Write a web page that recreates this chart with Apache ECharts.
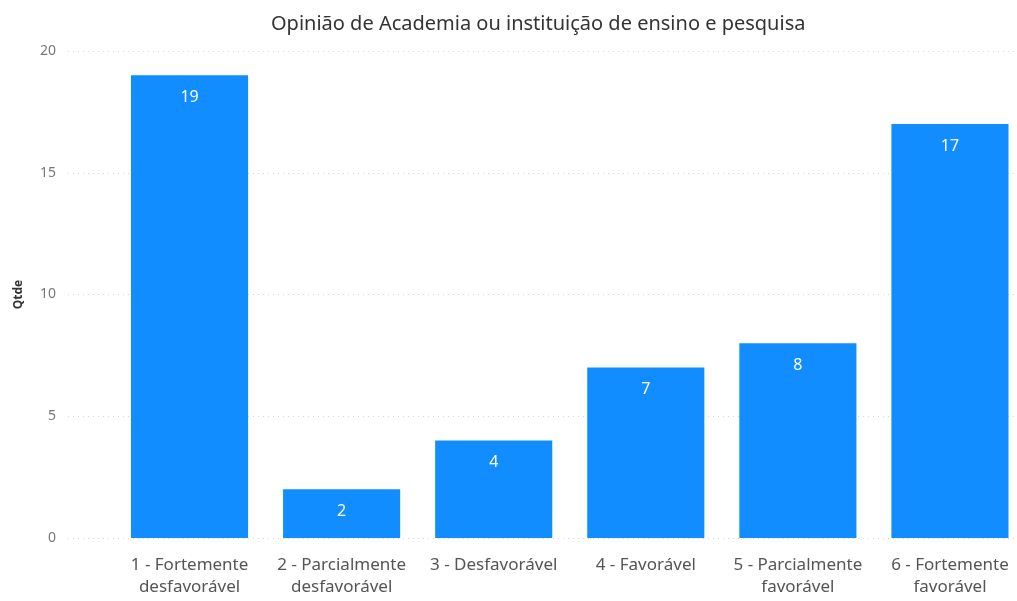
<!DOCTYPE html>
<html>
<head>
<meta charset="utf-8">
<script src="https://cdn.jsdelivr.net/npm/echarts@6/dist/echarts.min.js"></script>
<style>
  html, body { margin: 0; padding: 0; background: #fff; overflow: hidden; }
  /* a bit wider than the window: the last bar's band runs past the right edge */
  #chart { width: 1026px; height: 601px; }
</style>
</head>
<body>
<div id="chart"></div>
<script>
// categorias e contagens
const categories = [
  '1 - Fortemente desfavorável',
  '2 - Parcialmente desfavorável',
  '3 - Desfavorável',
  '4 - Favorável',
  '5 - Parcialmente favorável',
  '6 - Fortemente favorável'
]
const qtde = [19, 2, 4, 7, 8, 17]
const yTicks = [0, 5, 10, 15, 20]

const FONT = '"Noto Sans", "Open Sans", sans-serif'
const chart = echarts.init(document.getElementById('chart'))

chart.setOption({
  animation: false,
  textStyle: { fontFamily: FONT },
  title: {
    text: 'Opinião de Academia ou instituição de ensino e pesquisa',
    left: 266,
    top: 9,
    textStyle: { fontSize: 20, fontWeight: 'normal', color: '#333', fontFamily: FONT }
  },
  grid: [
    // grid 0: only for the y axis + dotted gridlines
    { left: 68, right: 9, top: 51, height: 487 },
    // grid 1: the bars
    { left: 113.5, right: 0, top: 51, height: 487 }
  ],
  xAxis: [
    { gridIndex: 0, type: 'category', data: categories, show: false },
    {
      gridIndex: 1,
      type: 'category',
      data: categories,
      axisLine: { show: false },
      axisTick: { show: false },
      axisLabel: {
        interval: 0,
        fontSize: 17,
        lineHeight: 22,
        margin: 16,
        color: '#555',
        fontFamily: FONT,
        formatter: s => s.replace(/ (desfavorável|favorável)$/, '\n$1')
      }
    }
  ],
  yAxis: [
    {
      gridIndex: 0,
      type: 'value',
      min: yTicks[0],
      max: yTicks[yTicks.length - 1],
      interval: 5,
      name: 'Qtde',
      nameLocation: 'middle',
      nameGap: 43,
      nameTextStyle: { fontSize: 12, fontWeight: 'bold', color: '#333', fontFamily: FONT },
      axisLine: { show: false },
      axisTick: { show: false },
      axisLabel: { fontSize: 14, color: '#777', margin: 12, fontFamily: FONT },
      splitLine: { lineStyle: { color: '#d4d4d4', type: [1, 4], width: 1 } }
    },
    {
      gridIndex: 1,
      type: 'value',
      min: yTicks[0],
      max: yTicks[yTicks.length - 1],
      interval: 5,
      show: false,
      splitLine: { show: false }
    }
  ],
  series: [{
    type: 'bar',
    xAxisIndex: 1,
    yAxisIndex: 1,
    data: qtde,
    barCategoryGap: '23%',
    itemStyle: { color: '#118DFF' },
    label: {
      show: true,
      position: 'insideTop',
      distance: 14,
      color: '#fff',
      fontSize: 16,
      fontFamily: FONT
    }
  }]
})
</script>
</body>
</html>
